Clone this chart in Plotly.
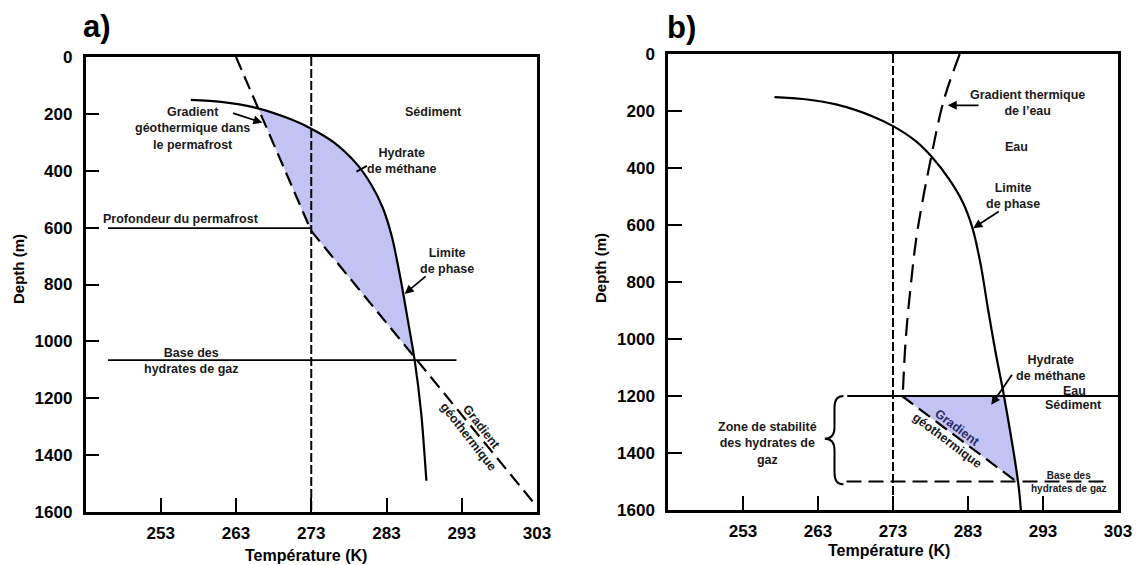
import numpy as np
import plotly.graph_objects as go

# ---------------- data ----------------
temp_ticks = [253, 263, 273, 283, 293, 303]
depth_ticks = [0, 200, 400, 600, 800, 1000, 1200, 1400, 1600]
temp_range = [243, 303]
depth_range = [1600, 0]
freeze_T = 273

# panel a (permafrost)
a_phase_T = [257.0, 261.0, 265.4, 270.3, 273.0, 276.0, 279.0, 281.0, 282.5, 283.7, 284.8, 285.8, 286.75, 287.6, 288.3]
a_phase_D = [151, 158, 177, 219, 252, 300, 375, 450, 530, 630, 770, 920, 1068, 1250, 1490]
a_geo_T = [263.0, 273.0, 302.7]
a_geo_D = [0, 612, 1572]
a_permafrost_D = 602
a_permafrost_T = [246.0, 273.0]
a_base_D = 1066
a_base_T = [246.0, 292.3]

# panel b (ocean)
b_phase_T = [257.2, 261.0, 265.4, 270.3, 273.07, 276.0, 278.1, 280.5, 282.3, 283.6, 284.7, 285.7, 286.7, 287.8, 289.7, 290.05]
b_phase_D = [151, 158, 177, 219, 254, 305, 359, 440, 520, 611, 740, 900, 1050, 1200, 1506, 1600]
b_water_T = [281.9, 279.8, 278.1, 276.2, 275.3, 274.7, 274.3]
b_water_D = [0, 160, 360, 630, 830, 1000, 1195]
b_sed_T = [274.2, 289.7]
b_sed_D = [1200, 1505]
b_seafloor_D = 1200
b_seafloor_T = [266.9, 303.0]
b_base_D = 1500
b_base_T = [266.8, 302.0]
b_brace_T = [263.9, 265.2, 266.4]      # cusp, spine, tips
b_brace_D = [1200, 1350, 1510]         # top, middle, bottom

FILL = "#c3c3f3"
FONT = "Liberation Sans"


def band(d_lo, d_hi, left_T, left_D, right_T, right_D, n=400):
    d = np.linspace(d_lo, d_hi, n)
    tl = np.interp(d, left_D, left_T)
    tr = np.interp(d, right_D, right_T)
    keep = tr >= tl
    d, tl, tr = d[keep], tl[keep], tr[keep]
    return np.concatenate([tr, tl[::-1]]), np.concatenate([d, d[::-1]])


fig = go.Figure()

# ---------- panel a ----------
fa_x, fa_y = band(150, 1600, a_geo_T, a_geo_D, a_phase_T, a_phase_D)
fig.add_trace(go.Scatter(x=fa_x, y=fa_y, fill="toself", fillcolor=FILL, mode="none",
                         xaxis="x", yaxis="y", hoverinfo="skip"))
fig.add_trace(go.Scatter(x=[freeze_T, freeze_T], y=[0, 1600], mode="lines",
                         line=dict(color="black", width=2, dash="9px,3px"), xaxis="x", yaxis="y"))
fig.add_trace(go.Scatter(x=a_permafrost_T, y=[a_permafrost_D] * 2, mode="lines",
                         line=dict(color="black", width=1.8), xaxis="x", yaxis="y"))
fig.add_trace(go.Scatter(x=a_base_T, y=[a_base_D] * 2, mode="lines",
                         line=dict(color="black", width=1.8), xaxis="x", yaxis="y"))
fig.add_trace(go.Scatter(x=a_geo_T, y=a_geo_D, mode="lines",
                         line=dict(color="black", width=2.2, dash="14px,7px"), xaxis="x", yaxis="y"))
fig.add_trace(go.Scatter(x=a_phase_T, y=a_phase_D, mode="lines",
                         line=dict(color="black", width=2.2, shape="spline", smoothing=0.8),
                         xaxis="x", yaxis="y"))

# ---------- panel b ----------
fb_x, fb_y = band(b_sed_D[0], b_sed_D[-1], b_sed_T, b_sed_D, b_phase_T, b_phase_D)
fig.add_trace(go.Scatter(x=fb_x, y=fb_y, fill="toself", fillcolor=FILL, mode="none",
                         xaxis="x2", yaxis="y2", hoverinfo="skip"))
fig.add_trace(go.Scatter(x=[freeze_T, freeze_T], y=[0, 1600], mode="lines",
                         line=dict(color="black", width=2, dash="9px,3px"), xaxis="x2", yaxis="y2"))
fig.add_trace(go.Scatter(x=b_seafloor_T, y=[b_seafloor_D] * 2, mode="lines",
                         line=dict(color="black", width=1.8), xaxis="x2", yaxis="y2"))
fig.add_trace(go.Scatter(x=b_base_T, y=[b_base_D] * 2, mode="lines",
                         line=dict(color="black", width=2, dash="15px,7px"), xaxis="x2", yaxis="y2"))
fig.add_trace(go.Scatter(x=b_water_T, y=b_water_D, mode="lines",
                         line=dict(color="black", width=2.2, dash="18px,9px", shape="spline"),
                         xaxis="x2", yaxis="y2"))
fig.add_trace(go.Scatter(x=b_sed_T, y=b_sed_D, mode="lines",
                         line=dict(color="black", width=2.2, dash="14px,7px"), xaxis="x2", yaxis="y2"))
fig.add_trace(go.Scatter(x=b_phase_T, y=b_phase_D, mode="lines",
                         line=dict(color="black", width=2.2, shape="spline", smoothing=0.8),
                         xaxis="x2", yaxis="y2"))

# brace (curly bracket) in panel b
xc, xs, xt = b_brace_T
yt, ym, yb = b_brace_D
r = 40
brace = (f"M {xt},{yt} Q {xs},{yt} {xs},{yt + r} L {xs},{ym - r} Q {xs},{ym} {xc},{ym} "
         f"Q {xs},{ym} {xs},{ym + r} L {xs},{yb - r} Q {xs},{yb} {xt},{yb}")
fig.add_shape(type="path", path=brace, xref="x2", yref="y2", line=dict(color="black", width=2))

# ---------- axes ----------
def axis_common():
    return dict(showline=True, mirror=True, linecolor="black", linewidth=2.5,
                ticks="inside", ticklen=14, tickwidth=2, tickcolor="black",
                showgrid=False, zeroline=False,
                tickfont=dict(family=FONT, size=17, color="black", weight="bold"))

W, H = 1138, 565
fig.update_layout(
    width=W, height=H, margin=dict(l=0, r=0, t=0, b=0, autoexpand=False),
    paper_bgcolor="white", plot_bgcolor="white", showlegend=False,
    xaxis=dict(domain=[85.5 / W, 537 / W], range=temp_range, tickvals=temp_ticks,
               anchor="y", ticklabelstandoff=4, **axis_common()),
    yaxis=dict(domain=[1 - 512 / H, 1 - 57 / H], range=depth_range, tickvals=depth_ticks,
               anchor="x", ticklabelstandoff=7, **axis_common()),
    xaxis2=dict(domain=[668 / W, 1118 / W], range=temp_range, tickvals=temp_ticks,
                anchor="y2", ticklabelstandoff=4, **axis_common()),
    yaxis2=dict(domain=[1 - 510 / H, 1 - 54 / H], range=depth_range, tickvals=depth_ticks,
                anchor="x2", ticklabelstandoff=7, **axis_common()),
)

ann = []

def txt(x, y, s, ref="", size=12.5, angle=0, color="#1a1a1a"):
    ann.append(dict(x=x, y=y, xref="x" + ref, yref="y" + ref, text=f"<b>{s}</b>", showarrow=False,
                    textangle=angle, font=dict(family=FONT, size=size, color=color),
                    xanchor="center", yanchor="middle", align="center"))

def arrow(x0, y0, x1, y1, ref="", head=2):
    ann.append(dict(x=x1, y=y1, ax=x0, ay=y0, xref="x" + ref, yref="y" + ref,
                    axref="x" + ref, ayref="y" + ref, text="", showarrow=True,
                    arrowhead=head, arrowsize=1, arrowwidth=1.8, arrowcolor="black"))

def paper(px, py, s, size, angle=0):
    ann.append(dict(x=px / W, y=1 - py / H, xref="paper", yref="paper", text=f"<b>{s}</b>",
                    showarrow=False, textangle=angle,
                    font=dict(family=FONT, size=size, color="black"),
                    xanchor="center", yanchor="middle"))

# panel a labels
txt(289.2, 195, "Sédiment")
txt(285.1, 365, "Hydrate<br>de méthane")
arrow(280.6, 380, 279.0, 403, head=0)
txt(291.1, 718, "Limite<br>de phase")
arrow(288.4, 767, 285.4, 833)
txt(257.2, 250, "Gradient<br>géothermique dans<br>le permafrost")
arrow(262.4, 196, 266.5, 231, head=2)
txt(255.7, 571, "Profondeur du permafrost")
txt(257.0, 1068, "Base des<br>hydrates de gaz")
txt(294.75, 1320, "Gradient<br>géothermique", angle=52)

# panel b labels
txt(290.9, 173, "Gradient thermique<br>de l’eau", ref="2")
arrow(284.6, 180, 280.3, 180, ref="2")
txt(289.5, 328, "Eau", ref="2")
txt(289.0, 498, "Limite<br>de phase", ref="2")
arrow(287.3, 549, 283.7, 611, ref="2")
txt(294.1, 1100, "Hydrate<br>de méthane", ref="2")
arrow(289.0, 1120, 286.1, 1231, ref="2")
txt(297.2, 1184, "Eau", ref="2")
txt(297.1, 1231, "Sédiment", ref="2")
txt(280.9, 1332, "<span style='color:#2b2b66'>Gradient</span><br>géothermique", ref="2", angle=37)
txt(256.3, 1365, "Zone de stabilité<br>des hydrates de<br>gaz", ref="2")
txt(296.5, 1501, "Base des<br>hydrates de gaz", ref="2", size=10)

# panel titles and axis titles
paper(97, 26, "a)", 31)
paper(681, 28, "b)", 31)
paper(18, 269, "Depth (m)", 15, angle=-90)
paper(601, 268, "Depth (m)", 15, angle=-90)
paper(306, 555, "Température (K)", 16)
paper(889, 550, "Température (K)", 16)

fig.update_layout(annotations=ann)
fig.write_html("out.html", config={"displayModeBar": False},
               post_script="document.body.style.margin='0';")
